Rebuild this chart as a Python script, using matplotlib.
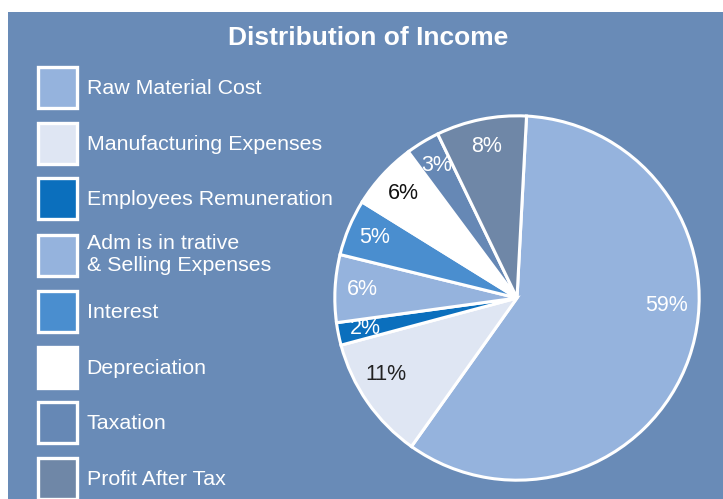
import matplotlib.pyplot as plt
from matplotlib.patches import Rectangle

labels = ["Raw Material Cost", "Manufacturing Expenses", "Employees Remuneration",
          "Adm is in trative\n& Selling Expenses", "Interest", "Depreciation",
          "Taxation", "Profit After Tax"]
shares = [59, 11, 2, 6, 5, 6, 3, 8]
colors = ["#95b3dd", "#dfe6f3", "#0b6fbd", "#95b3dd", "#4a8ecf", "#ffffff",
          "#6688b5", "#6f87a7"]
pct_colors = ["white", "#222222", "white", "white", "white", "#111111", "white", "white"]

bg = "#698bb7"
plt.rcParams['font.family'] = ['Liberation Sans', 'DejaVu Sans']

fig = plt.figure(figsize=(7.23, 4.99), dpi=100)
fig.patch.set_facecolor("white")
# blue panel, leaving the thin white margin at top and left
fig.patches.append(Rectangle((8 / 723, 0), 1, 1 - 12 / 499, transform=fig.transFigure,
                             facecolor=bg, edgecolor="none", zorder=-5))

fig.text(368 / 723, 1 - 38 / 499, "Distribution of Income", color="white",
         fontsize=19, fontweight="bold", ha="center", va="center")

# pie: centre ~ (517, 298) px, radius ~184 px
r = 184
ax = fig.add_axes([(517 - r) / 723, (499 - 298 - r) / 499, 2 * r / 723, 2 * r / 499])
ax.set_zorder(2)
ax.patch.set_visible(False)
wedges, _, autotexts = ax.pie(shares, colors=colors, startangle=87, counterclock=False,
                              autopct=lambda p: f"{p:.0f}%", pctdistance=0.85,
                              wedgeprops=dict(edgecolor="white", linewidth=2.2))
ax.set_aspect("auto")
ax.set_xlim(-1.01, 1.01)
ax.set_ylim(-1.01, 1.01)
for t, c in zip(autotexts, pct_colors):
    t.set_color(c)
    t.set_fontsize(15.5)
# the big slice's label sits nearly level with the centre
autotexts[0].set_position((0.82, -0.04))
autotexts[1].set_position((-0.72, -0.42))

leg = fig.legend(wedges, labels, loc="upper left", bbox_to_anchor=(38 / 723, 1 - 67 / 499),
                 frameon=False, fontsize=15.4, labelcolor="white",
                 handlelength=1.82, handleheight=2.57, handletextpad=0.45,
                 labelspacing=0.69, borderpad=0, borderaxespad=0)
for h in leg.legend_handles:
    h.set_edgecolor("white")
    h.set_linewidth(2.4)

fig.savefig("out.png", dpi=100, facecolor=fig.get_facecolor())
